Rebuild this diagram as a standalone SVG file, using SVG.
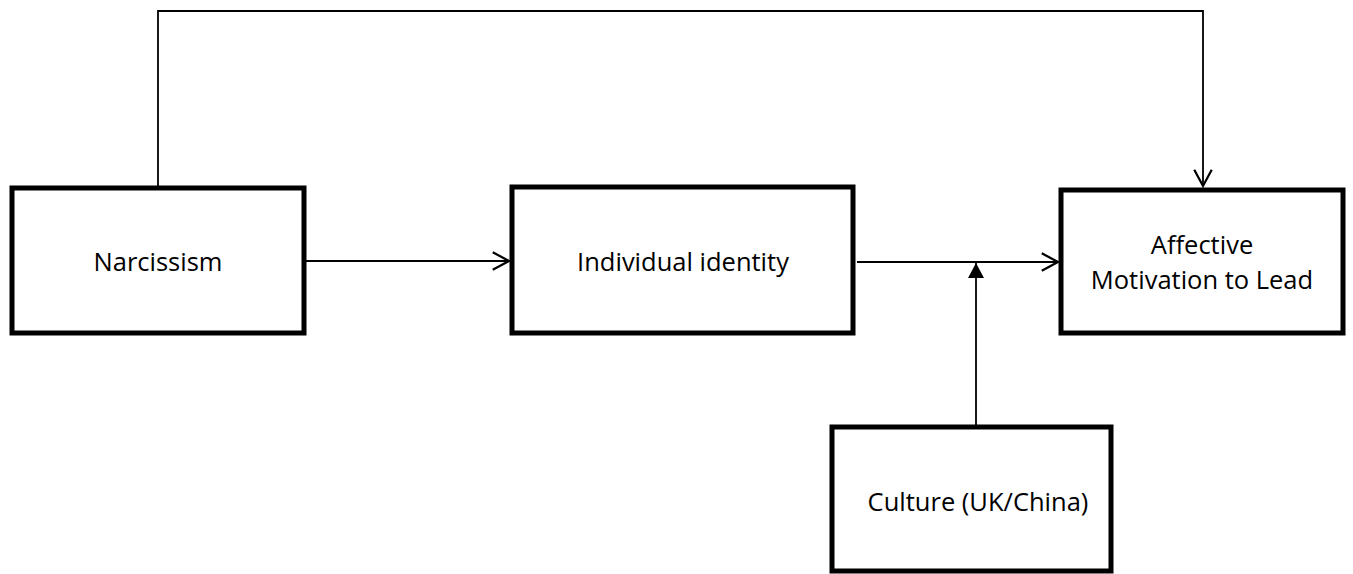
<svg xmlns="http://www.w3.org/2000/svg" width="1353" height="574" viewBox="0 0 1353 574">
<style>
.box{fill:#fff;stroke:#000;stroke-width:5;stroke-linejoin:miter}
.lbl{font-family:"Open Sans","Liberation Sans",sans-serif;font-size:25.5px;fill:#000;text-anchor:middle}
.conn{fill:none;stroke:#000;stroke-width:1.8}
</style>
<defs>
<marker id="open" markerUnits="userSpaceOnUse" markerWidth="20" markerHeight="20" refX="14" refY="8" orient="auto" viewBox="0 0 16 16">
<path d="M1,1 L14,8 L1,15" fill="none" stroke="#000" stroke-width="1.8"/>
</marker>
<marker id="solid" markerUnits="userSpaceOnUse" markerWidth="16" markerHeight="16" refX="15" refY="8" orient="auto" viewBox="0 0 16 16">
<path d="M0,0 L15,8 L0,16 Z" fill="#000"/>
</marker>
</defs>
<g id="connectors">
<path class="conn" d="M158,186 V11 H1203 V186" marker-end="url(#open)"/>
<path class="conn" d="M306,261 H509" marker-end="url(#open)"/>
<path class="conn" d="M857,262 H1058" marker-end="url(#open)"/>
<path class="conn" d="M976,425 V263" marker-end="url(#solid)"/>
</g>
<g id="narcissism">
<rect class="box" x="12" y="188" width="292" height="145"/>
<text class="lbl" x="158" y="271">Narcissism</text>
</g>
<g id="individual-identity">
<rect class="box" x="512" y="187" width="341" height="146"/>
<text class="lbl" x="683" y="271">Individual identity</text>
</g>
<g id="affective-mtl">
<rect class="box" x="1061" y="190" width="282" height="143"/>
<text class="lbl" x="1202" y="254">Affective</text>
<text class="lbl" x="1202" y="289">Motivation to Lead</text>
</g>
<g id="culture">
<rect class="box" x="832" y="427" width="279" height="144"/>
<text class="lbl" x="978" y="511">Culture (UK/China)</text>
</g>
</svg>
